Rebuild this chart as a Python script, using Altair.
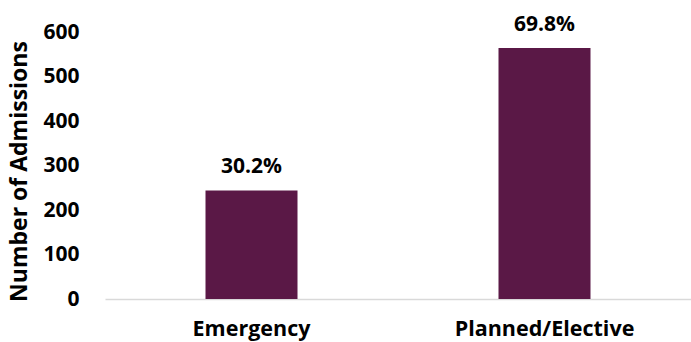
import altair as alt
import pandas as pd

# Admissions by type
admission_types = ["Emergency", "Planned/Elective"]
admission_counts = [244, 564]
y_ticks = [0, 100, 200, 300, 400, 500, 600]

total = sum(admission_counts)
df = pd.DataFrame({
    "type": admission_types,
    "count": admission_counts,
    "share": [c / total for c in admission_counts],
})

FONT = "Open Sans"
BAR_COLOR = "#5a1846"

x_enc = alt.X(
    "type:N",
    sort=admission_types,
    title=None,
    scale=alt.Scale(paddingInner=0.686, paddingOuter=0.343),
    axis=alt.Axis(
        labelAngle=0,
        labelFont=FONT,
        labelFontSize=21.5,
        labelFontWeight="bold",
        labelColor="#000000",
        labelPadding=19,
        ticks=False,
        domainColor="#d9d9d9",
        domainWidth=1.5,
    ),
)

y_enc = alt.Y(
    "count:Q",
    scale=alt.Scale(domain=[0, 600], nice=False),
    axis=alt.Axis(
        values=y_ticks,
        title="Number of Admissions",
        titleFont=FONT,
        titleFontSize=23,
        titleFontWeight="bold",
        titleColor="#000000",
        titleAngle=-90,
        titleX=-86,
        titleY=139,
        titleAlign="center",
        titleBaseline="middle",
        labelFont=FONT,
        labelFontSize=21,
        labelFontWeight="bold",
        labelColor="#000000",
        labelPadding=26,
        ticks=False,
        domain=False,
        grid=False,
    ),
)

bars = alt.Chart(df).mark_bar(color=BAR_COLOR).encode(x=x_enc, y=y_enc)

labels = alt.Chart(df).mark_text(
    font=FONT,
    fontSize=21,
    fontWeight="bold",
    color="#000000",
    baseline="alphabetic",
    dy=-17,
).encode(
    x=alt.X("type:N", sort=admission_types),
    y="count:Q",
    text=alt.Text("share:Q", format=".1%"),
)

chart = (
    alt.layer(bars, labels)
    .properties(
        width=586,
        height=267,
        autosize=alt.AutoSizeParams(type="none"),
        padding={"left": 105, "top": 32, "right": 0, "bottom": 43},
        background="#ffffff",
    )
    .configure_view(stroke=None)
)

chart.save("out.html", embed_options={"renderer": "svg", "actions": False})
